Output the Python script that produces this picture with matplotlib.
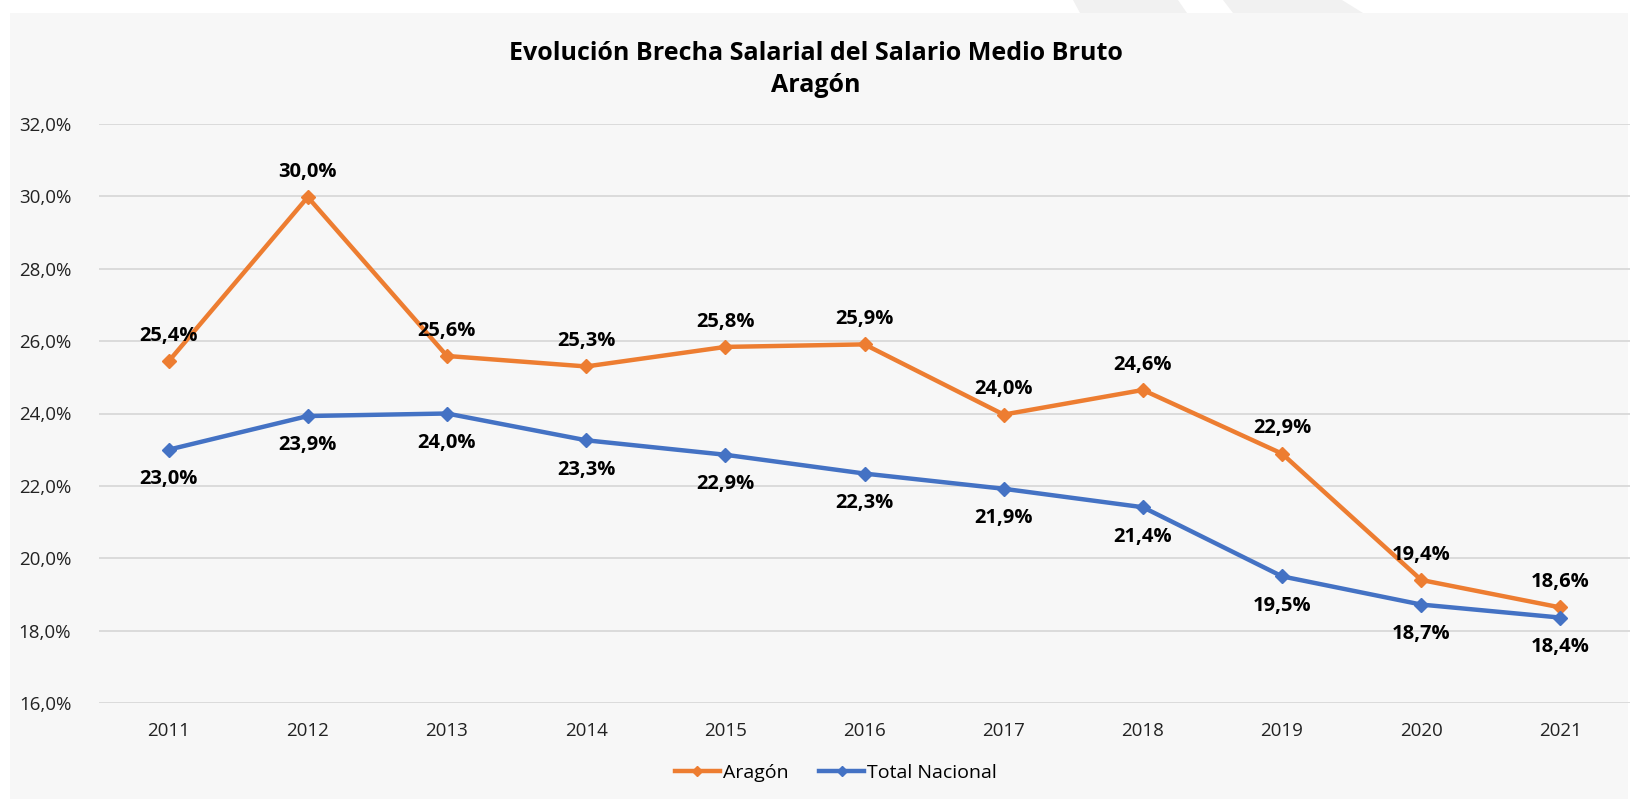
import matplotlib.pyplot as plt
import matplotlib.font_manager as fm
from matplotlib.patches import Rectangle, Polygon
from matplotlib.ticker import FuncFormatter

years = ['2011', '2012', '2013', '2014', '2015', '2016', '2017', '2018', '2019', '2020', '2021']
aragon = [25.44, 29.98, 25.59, 25.30, 25.84, 25.91, 23.97, 24.65, 22.89, 19.40, 18.64]
nacional = [23.0, 23.93, 24.0, 23.26, 22.86, 22.34, 21.92, 21.41, 19.5, 18.72, 18.36]
yticks = [16, 18, 20, 22, 24, 26, 28, 30, 32]

c_ara = '#ed7d31'
c_nac = '#4472c4'

names = {f.name for f in fm.fontManager.ttflist}
title_fam = ['Liberation Sans Narrow'] if 'Liberation Sans Narrow' in names else ['Open Sans']
plt.rcParams['font.family'] = ['Open Sans', 'DejaVu Sans']

W, H = 1633, 799
fig = plt.figure(figsize=(W / 100, H / 100), dpi=100, facecolor='white')

# background panel and faint decoration at the top
fig.patches.append(Rectangle((10 / W, 0), 1618 / W, 1 - 13 / H, transform=fig.transFigure,
                             facecolor='#f7f7f7', edgecolor='none', zorder=-2))
for xs in [(1073, 1178, 1187, 1080), (1223, 1342, 1363, 1233)]:
    pts = [(xs[0] / W, 1), (xs[1] / W, 1), (xs[2] / W, 1 - 13 / H), (xs[3] / W, 1 - 13 / H)]
    fig.patches.append(Polygon(pts, closed=True, transform=fig.transFigure,
                               facecolor='#f1f1f1', edgecolor='none', zorder=-2))

ax = fig.add_axes([99 / W, 1 - 703 / H, 1531 / W, (703 - 124) / H])
ax.set_facecolor('none')
ax.set_zorder(1)

x = list(range(len(years)))
ax.plot(x, aragon, color=c_ara, lw=3.2, marker='D', ms=7, label='Aragón', zorder=3)
ax.plot(x, nacional, color=c_nac, lw=3.2, marker='D', ms=7, label='Total Nacional', zorder=3)

fmt = lambda v: f'{v:.1f}'.replace('.', ',') + '%'
for i, v in enumerate(aragon):
    ax.annotate(fmt(v), (i, v), xytext=(0, 11), textcoords='offset points',
                ha='center', va='bottom', fontsize=14.5, fontweight='bold', color='black')
for i, v in enumerate(nacional):
    ax.annotate(fmt(v), (i, v), xytext=(0, -14), textcoords='offset points',
                ha='center', va='top', fontsize=14.5, fontweight='bold', color='black')

ax.set_xlim(-0.5, len(years) - 0.5)
ax.set_ylim(16, 32)
ax.set_xticks(x)
ax.set_xticklabels(years)
ax.set_yticks(yticks)
ax.yaxis.set_major_formatter(FuncFormatter(lambda v, p: f'{v:.1f}'.replace('.', ',') + '%'))
ax.tick_params(axis='both', length=0, labelsize=13.5, colors='#222222')
ax.tick_params(axis='x', pad=14)
ax.tick_params(axis='y', pad=20)
ax.grid(axis='y', color='#d9d9d9', lw=1.3)
ax.set_axisbelow(True)
for s in ax.spines.values():
    s.set_visible(False)

fig.text(816 / W, 1 - 53 / H, 'Evolución Brecha Salarial del Salario Medio Bruto', ha='center', va='center',
         fontsize=18, fontweight='bold', family=title_fam)
fig.text(816 / W, 1 - 85 / H, 'Aragón', ha='center', va='center',
         fontsize=18, fontweight='bold', family=title_fam)

fig.legend(loc='center', bbox_to_anchor=(836 / W, 1 - 773 / H), ncol=2, frameon=False,
           fontsize=14, handlelength=2.3, handletextpad=0.15, columnspacing=1.6, markerscale=0.8)

fig.savefig('out.png', dpi=100, facecolor='white')
